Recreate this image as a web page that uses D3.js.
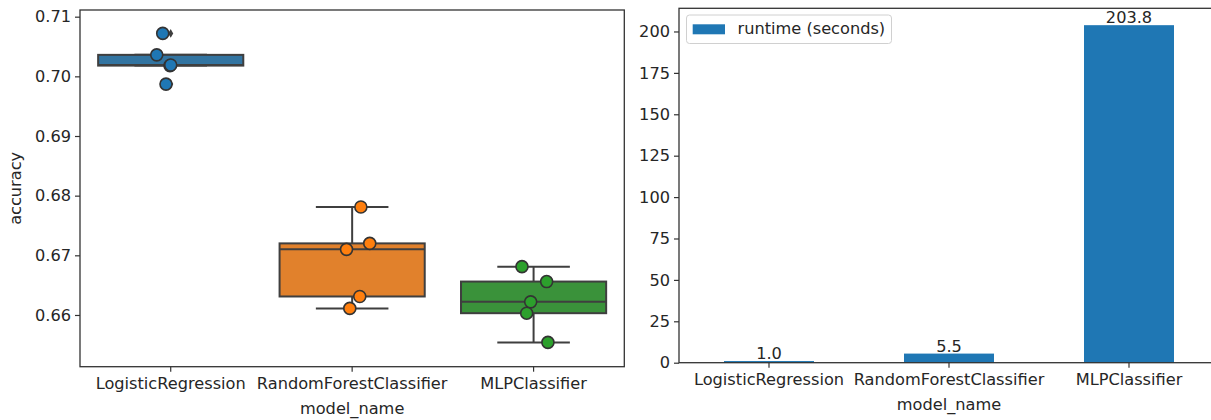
<!DOCTYPE html>
<html><head><meta charset="utf-8">
<script src="https://cdn.jsdelivr.net/npm/d3@7"></script>
<style>body{margin:0;background:#fff;overflow:hidden} text{font-family:"DejaVu Sans",sans-serif}</style>
</head><body><svg id="c" width="1211" height="420"></svg>
<script>
// ---- data ----
const categories = ["LogisticRegression", "RandomForestClassifier", "MLPClassifier"];
const accLR  = [0.7072, 0.7036, 0.7018, 0.7019, 0.6987];
const accRF  = [0.6781, 0.6720, 0.6710, 0.6631, 0.6611];
const accMLP = [0.6681, 0.6656, 0.6622, 0.6603, 0.6554];
// horizontal strip offsets (fraction of category step)
const jitLR  = [-0.044, -0.077, -0.004, 0.000, -0.026];
const jitRF  = [0.048, 0.097, -0.031, 0.042, -0.013];
const jitMLP = [-0.064, 0.072, -0.016, -0.038, 0.079];
const runtime = [1.0, 5.5, 203.8];
const accTicks = [0.66, 0.67, 0.68, 0.69, 0.70, 0.71];
const rtTicks = [0, 25, 50, 75, 100, 125, 150, 175, 200];
const boxColors = ["#3274a1", "#e1812c", "#3a923a"];
const pointColors = ["#1f77b4", "#ff7f0e", "#2ca02c"];
const barColor = "#1f77b4";

const groups = [accLR, accRF, accMLP];
const jits = [jitLR, jitRF, jitMLP];

const svg = d3.select("#c");
const txt = "#262626", spine = "#333", lineGray = "#3f3f3f";
const FS = "16.2px";

// ---- left panel ----
const L = {left: 80, right: 624.3, top: 10, bottom: 366.7};
const x1 = d3.scaleBand().domain(categories).range([L.left, L.right]).paddingInner(0.2).paddingOuter(0.1);
const step1 = x1.step();
const y1 = d3.scaleLinear().domain([0.65133, 0.71112]).range([L.bottom, L.top]);

const gL = svg.append("g");
groups.forEach((vals, i) => {
  const s = vals.slice().sort(d3.ascending);
  const q1 = d3.quantile(s, 0.25), med = d3.quantile(s, 0.5), q3 = d3.quantile(s, 0.75);
  const iqr = q3 - q1;
  const lo = d3.min(s.filter(v => v >= q1 - 1.5 * iqr));
  const hi = d3.max(s.filter(v => v <= q3 + 1.5 * iqr));
  const cx = x1(categories[i]) + x1.bandwidth() / 2;
  const bw = x1.bandwidth();
  const g = gL.append("g").attr("stroke", lineGray).attr("stroke-width", 2);
  // whiskers
  g.append("line").attr("x1", cx).attr("x2", cx).attr("y1", y1(q3)).attr("y2", y1(hi));
  g.append("line").attr("x1", cx).attr("x2", cx).attr("y1", y1(q1)).attr("y2", y1(lo));
  g.append("line").attr("x1", cx - bw / 4).attr("x2", cx + bw / 4).attr("y1", y1(hi)).attr("y2", y1(hi));
  g.append("line").attr("x1", cx - bw / 4).attr("x2", cx + bw / 4).attr("y1", y1(lo)).attr("y2", y1(lo));
  g.append("rect").attr("x", cx - bw / 2).attr("width", bw)
    .attr("y", y1(q3)).attr("height", y1(q1) - y1(q3)).attr("fill", boxColors[i]);
  g.append("line").attr("x1", cx - bw / 2).attr("x2", cx + bw / 2).attr("y1", y1(med)).attr("y2", y1(med));
  // fliers
  s.filter(v => v < lo || v > hi).forEach(v => {
    g.append("path").attr("d", d3.symbol(d3.symbolDiamond, 22)())
      .attr("transform", `translate(${cx},${y1(v)})`).attr("fill", lineGray).attr("stroke", "none");
  });
});
groups.forEach((vals, i) => {
  const cx = x1(categories[i]) + x1.bandwidth() / 2;
  gL.selectAll(null).data(vals).enter().append("circle")
    .attr("cx", (d, j) => cx + jits[i][j] * step1)
    .attr("cy", d => y1(d)).attr("r", 6)
    .attr("fill", pointColors[i]).attr("stroke", "#333").attr("stroke-width", 1.6);
});

// axes left
const axL = svg.append("g").attr("transform", `translate(${L.left},0)`)
  .call(d3.axisLeft(y1).tickValues(accTicks).tickFormat(d3.format(".2f")).tickSize(5).tickPadding(4));
const axB = svg.append("g").attr("transform", `translate(0,${L.bottom})`)
  .call(d3.axisBottom(x1).tickSize(5).tickPadding(6));
[axL, axB].forEach(a => {
  a.select(".domain").remove();
  a.selectAll(".tick line").attr("stroke", spine).attr("stroke-width", 1.2);
  a.selectAll(".tick text").attr("fill", txt).style("font-size", FS).style("font-family", "DejaVu Sans");
});
svg.append("rect").attr("x", L.left).attr("y", L.top).attr("width", L.right - L.left).attr("height", L.bottom - L.top)
  .attr("fill", "none").attr("stroke", spine).attr("stroke-width", 1.3);
svg.append("text").attr("transform", `translate(16,${(L.top + L.bottom) / 2}) rotate(-90)`)
  .attr("text-anchor", "middle").attr("dominant-baseline", "middle").attr("fill", txt).style("font-size", FS).text("accuracy");
svg.append("text").attr("x", (L.left + L.right) / 2).attr("y", 414).attr("text-anchor", "middle")
  .attr("fill", txt).style("font-size", FS).text("model_name");

// ---- right panel ----
const R = {left: 679, right: 1219, top: 8.3, bottom: 362.7};
const x2 = d3.scaleBand().domain(categories).range([R.left, R.right]).paddingInner(0.5).paddingOuter(0.25);
const y2 = d3.scaleLinear().domain([0, 213.99]).range([R.bottom, R.top]);
const gR = svg.append("g");
gR.selectAll("rect").data(runtime).enter().append("rect")
  .attr("x", (d, i) => x2(categories[i])).attr("width", x2.bandwidth())
  .attr("y", d => y2(d)).attr("height", d => y2(0) - y2(d)).attr("fill", barColor);
gR.selectAll("text").data(runtime).enter().append("text")
  .attr("x", (d, i) => x2(categories[i]) + x2.bandwidth() / 2).attr("y", d => y2(d) - 2)
  .attr("text-anchor", "middle").attr("fill", txt).style("font-size", FS).text(d => d.toFixed(1));

const axL2 = svg.append("g").attr("transform", `translate(${R.left},0)`)
  .call(d3.axisLeft(y2).tickValues(rtTicks).tickFormat(d3.format("d")).tickSize(5).tickPadding(4));
const axB2 = svg.append("g").attr("transform", `translate(0,${R.bottom})`)
  .call(d3.axisBottom(x2).tickSize(5).tickPadding(6));
[axL2, axB2].forEach(a => {
  a.select(".domain").remove();
  a.selectAll(".tick line").attr("stroke", spine).attr("stroke-width", 1.2);
  a.selectAll(".tick text").attr("fill", txt).style("font-size", FS).style("font-family", "DejaVu Sans");
});
svg.append("rect").attr("x", R.left).attr("y", R.top).attr("width", R.right - R.left).attr("height", R.bottom - R.top)
  .attr("fill", "none").attr("stroke", spine).attr("stroke-width", 1.3);
svg.append("text").attr("x", (R.left + R.right) / 2).attr("y", 410).attr("text-anchor", "middle")
  .attr("fill", txt).style("font-size", FS).text("model_name");

// legend
const lg = svg.append("g");
lg.append("rect").attr("x", 686.5).attr("y", 15).attr("width", 205).attr("height", 28.5).attr("rx", 3)
  .attr("fill", "#fff").attr("fill-opacity", 0.8).attr("stroke", "#d0d0d0").attr("stroke-width", 1);
lg.append("rect").attr("x", 692.7).attr("y", 24.3).attr("width", 32.3).attr("height", 10).attr("fill", barColor);
lg.append("text").attr("x", 737.5).attr("y", 29.5).attr("dominant-baseline", "middle")
  .attr("fill", txt).style("font-size", FS).text("runtime (seconds)");
</script></body></html>
